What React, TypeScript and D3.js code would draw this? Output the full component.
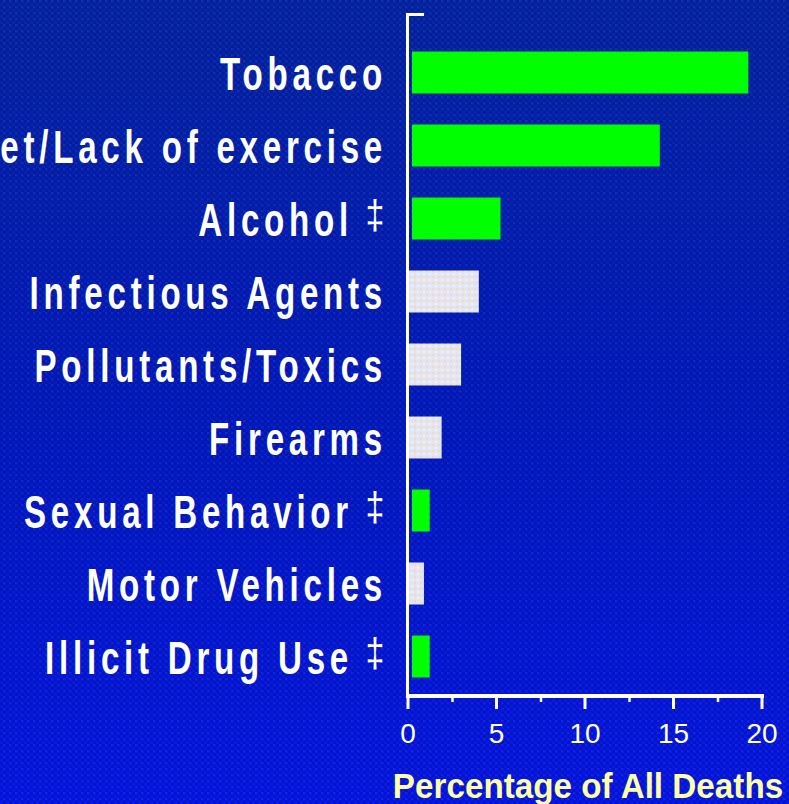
import React from "react";
import * as d3 from "d3";

const categories = [
  "Tobacco",
  "Diet/Lack of exercise",
  "Alcohol",
  "Infectious Agents",
  "Pollutants/Toxics",
  "Firearms",
  "Sexual Behavior",
  "Motor Vehicles",
  "Illicit Drug Use",
];
const values = [19, 14, 5, 4, 3, 1.9, 1, 0.9, 1];
const behavioral = [true, true, true, false, false, false, true, false, true];
const dagger = [false, false, true, false, false, false, true, false, true];
const majorTicks = [0, 5, 10, 15, 20];
const minorTicks = [2.5, 7.5, 12.5, 17.5];
const axisTitle = "Percentage of All Deaths";

const W = 789;
const H = 804;
const FONT = "'Liberation Sans', Arial, sans-serif";
const LABEL_SCALE = 0.72;
const LABEL_SPACING = 6.6;

export default function App() {
  const x = d3.scaleLinear().domain([0, 20]).range([408, 762]);
  const y = d3
    .scaleBand<string>()
    .domain(categories)
    .range([36, 693])
    .paddingInner(0.425)
    .paddingOuter(0.2125);
  const bw = y.bandwidth();
  const x0 = x(0);

  return (
    <svg
      width={W}
      height={H}
      style={{ position: "absolute", left: 0, top: 0, display: "block" }}
    >
      <defs>
        <linearGradient id="bg" x1="0" y1="0" x2="0" y2="1">
          <stop offset="0" stopColor="#0628a6" />
          <stop offset="0.5" stopColor="#041cc4" />
          <stop offset="1" stopColor="#0818ee" />
        </linearGradient>
        <pattern id="dither" width="6" height="6" patternUnits="userSpaceOnUse">
          <rect x="0" y="0" width="3" height="3" fill="#000a60" opacity="0.28" />
          <rect x="3" y="3" width="3" height="3" fill="#000a60" opacity="0.28" />
          <rect x="3" y="0" width="2" height="2" fill="#2a5cff" opacity="0.18" />
        </pattern>
        <pattern id="grayfill" width="6" height="6" patternUnits="userSpaceOnUse">
          <rect x="0" y="0" width="6" height="6" fill="#e4e4f4" />
          <rect x="0" y="0" width="2" height="2" fill="#f2dcb4" />
          <rect x="3" y="3" width="2" height="2" fill="#e2fbee" />
          <rect x="3" y="0" width="2" height="2" fill="#ece0ee" />
        </pattern>
      </defs>

      <rect x={0} y={0} width={W} height={H} fill="url(#bg)" />
      <rect x={0} y={0} width={W} height={H} fill="url(#dither)" />

      {/* bars */}
      {categories.map((c, i) => {
        const yy = y(c)!;
        const green = behavioral[i];
        const start = green ? x0 + 4 : x0;
        return (
          <rect
            key={c}
            x={start}
            y={yy}
            width={x(values[i]) - x0}
            height={bw}
            fill={green ? "#00ff00" : "url(#grayfill)"}
          />
        );
      })}

      {/* y axis */}
      <rect x={406} y={14} width={3} height={684} fill="#ffffff" />
      <rect x={406} y={13} width={18} height={3} fill="#ffffff" />

      {/* x axis */}
      <rect x={406} y={694} width={x(20) - 406 + 2} height={4} fill="#ffffff" />
      {majorTicks.map((t) => (
        <rect key={"M" + t} x={x(t) - 1.5} y={694} width={3} height={15} fill="#ffffff" />
      ))}
      {minorTicks.map((t) => (
        <rect key={"m" + t} x={x(t) - 1} y={694} width={2.5} height={8} fill="#ffffff" />
      ))}
      {majorTicks.map((t) => (
        <text
          key={"L" + t}
          x={x(t)}
          y={743}
          fill="#ffffff"
          fontFamily={FONT}
          fontSize={28}
          textAnchor="middle"
        >
          {t}
        </text>
      ))}

      {/* category labels */}
      {categories.map((c, i) => {
        const cy = y(c)! + bw / 2;
        const base = cy + 17;
        const endX = (dagger[i] ? 349 : 383) + 4;
        return (
          <g key={"lab" + c}>
            <text
              transform={`translate(${endX},${base}) scale(${LABEL_SCALE},1)`}
              fill="#ffffff"
              fontFamily={FONT}
              fontWeight="bold"
              fontSize={46}
              textAnchor="end"
              style={{ letterSpacing: `${LABEL_SPACING}px` }}
            >
              {c}
            </text>
            {dagger[i] && (
              <text
                transform={`translate(375,${base - 7}) scale(0.85,1)`}
                fill="#ffffff"
                fontFamily={FONT}
                fontSize={40}
                textAnchor="middle"
              >
                ‡
              </text>
            )}
          </g>
        );
      })}

      {/* axis title */}
      <text
        transform={`translate(588,798) scale(0.95,1)`}
        fill="#ffffa6"
        fontFamily={FONT}
        fontWeight="bold"
        fontSize={35}
        textAnchor="middle"
      >
        {axisTitle}
      </text>
    </svg>
  );
}
